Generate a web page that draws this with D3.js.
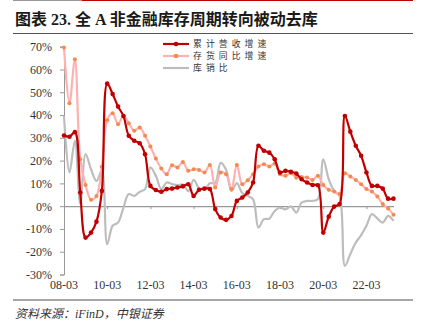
<!DOCTYPE html>
<html><head><meta charset="utf-8">
<script src="https://cdn.jsdelivr.net/npm/d3@7"></script>
<style>
html,body{margin:0;padding:0;background:#fff;}
svg{display:block;}
</style></head>
<body>
<script>
const quarters = ["2008-03","2008-06","2008-09","2008-12","2009-03","2009-06","2009-09","2009-12",
"2010-03","2010-06","2010-09","2010-12","2011-03","2011-06","2011-09","2011-12",
"2012-03","2012-06","2012-09","2012-12","2013-03","2013-06","2013-09","2013-12",
"2014-03","2014-06","2014-09","2014-12","2015-03","2015-06","2015-09","2015-12",
"2016-03","2016-06","2016-09","2016-12","2017-03","2017-06","2017-09","2017-12",
"2018-03","2018-06","2018-09","2018-12","2019-03","2019-06","2019-09","2019-12",
"2020-03","2020-06","2020-09","2020-12","2021-03","2021-06","2021-09","2021-12",
"2022-03","2022-06","2022-09","2022-12","2023-03","2023-06"];

const revenueGrowth = [31,30.5,32.5,6,-13.8,-11.6,-6.8,6.7,
53.8,49.2,43.7,39.6,30.9,28.7,27.6,22.8,
8.9,7.1,6.3,7.5,7.7,8.2,8.7,9.6,
4.5,7.2,7.7,7.5,-1.3,-5,-6,-4.3,
2.3,3.8,6,10.4,26.5,24.3,23.5,20.6,
14.8,15.5,15.1,14.3,11.8,10.4,9.3,9.2,
-11.6,-4.6,-0.2,0.9,39.6,32.7,26.5,22.1,
14.8,8.9,8.9,7.7,3.3,3.3];

const inventoryGrowth = [69.6,45.2,64.5,20.6,9.3,2.8,4.5,17.3,
37.7,40.8,36,39.6,36.4,33.1,34.5,30.9,
26.2,20.9,16.5,14,18,17,19.4,15.5,
16.2,15.9,14.8,18.1,8.2,14.8,14,7.5,
18.1,9.6,11.4,14,17.4,18.4,17.4,18.7,
14,13.3,14.5,12.5,12.8,12.6,11.5,13.3,
9.3,7.2,6.4,5.3,14.5,13,11.5,9.6,
7.5,6.4,4.2,0.9,-1,-3.8];

const stockSalesRatio = [39.6,14.8,28.7,0.9,22.8,16.2,11.1,15.5,
-16.7,-8.6,-7.2,-0.6,5.3,4.5,6.3,7.5,
17,13.3,7.5,10.4,9.7,9.2,9.5,6.6,
11.5,7.9,7.2,10.1,10.1,19,16,6.6,
10.1,5.8,4.5,3,-9.4,-5.7,-5.5,-2.1,
-0.6,-1.4,-0.1,-2.8,1.6,2.3,2.3,3.1,
20.6,11.9,6.7,4.5,-26.2,-21,-16,-12.7,
-8.6,-3.5,-5.4,-7.2,-4.3,-6.5];

const yTicks = [70,60,50,40,30,20,10,0,-10,-20,-30];
const xTickLabels = ["08-03","10-03","12-03","14-03","16-03","18-03","20-03","22-03"];
const seriesNames = ["累计营收增速","存货同比增速","库销比"];

const W = 427, H = 333;
const parse = d3.timeParse("%Y-%m");
const dates = quarters.map(parse);

const svg = d3.select("body").append("svg").attr("width", W).attr("height", H);

// header / footer decorations
svg.append("line").attr("x1",13).attr("x2",82).attr("y1",0.5).attr("y2",0.5).attr("stroke","#999").attr("stroke-width",1.2);
svg.append("line").attr("x1",82).attr("x2",413).attr("y1",0.5).attr("y2",0.5).attr("stroke","#C00000").attr("stroke-width",1.2);
svg.append("text").attr("x",15).attr("y",25)
  .attr("font-family","'Liberation Serif','Noto Sans CJK SC',serif")
  .attr("font-weight","bold").attr("font-size",16).attr("fill","#1a1a1a")
  .text("图表 23. 全 A 非金融库存周期转向被动去库");
svg.append("line").attr("x1",13).attr("x2",413).attr("y1",33.5).attr("y2",33.5).attr("stroke","#555").attr("stroke-width",1);
svg.append("line").attr("x1",13).attr("x2",413).attr("y1",300).attr("y2",300).attr("stroke","#888").attr("stroke-width",1.5);
svg.append("text").attr("x",15).attr("y",318)
  .attr("font-family","'Liberation Serif','Noto Sans CJK SC',serif")
  .attr("font-style","italic").attr("font-size",12).attr("fill","#333")
  .text("资料来源：iFinD，中银证券");

const x = d3.scaleTime().domain([dates[0], dates[dates.length-1]]).range([64, 393.5]);
const y = d3.scaleLinear().domain([-30, 70]).range([274.5, 46.7]);

// y axis
const yAxis = svg.append("g").attr("transform","translate(64,0)")
  .call(d3.axisLeft(y).tickValues(yTicks).tickSize(4).tickPadding(8).tickFormat(d => d + "%"));
yAxis.select(".domain").attr("stroke","#999");
yAxis.selectAll(".tick line").attr("stroke","#999");
yAxis.selectAll("text").attr("font-family","'Liberation Serif',serif").attr("font-size",12).attr("fill","#333");

// x axis at zero line
const tickDates = xTickLabels.map(s => d3.timeParse("%y-%m")(s));
const xAxis = svg.append("g").attr("transform",`translate(0,${y(0)})`)
  .call(d3.axisBottom(x).tickValues(tickDates).tickSize(3).tickSizeOuter(0).tickFormat(() => ""));
xAxis.select(".domain").attr("stroke","#999").attr("stroke-width",1.2);
xAxis.selectAll(".tick line").attr("stroke","#999");

// x labels at bottom
svg.append("g").selectAll("text").data(tickDates).join("text")
  .attr("x", d => x(d)).attr("y", 289).attr("text-anchor","middle")
  .attr("font-family","'Liberation Serif',serif").attr("font-size",12).attr("fill","#333")
  .text((d,i) => xTickLabels[i]);

const curve = d3.curveCatmullRom.alpha(0.5);
const line = vals => d3.line().x((d,i) => x(dates[i])).y(d => y(d)).curve(curve)(vals);

// gray
svg.append("path").attr("d", line(stockSalesRatio)).attr("fill","none").attr("stroke","#BDBDBD").attr("stroke-width",2.2);
// pink
svg.append("path").attr("d", line(inventoryGrowth)).attr("fill","none").attr("stroke","#FFB0B0").attr("stroke-width",2.2);
svg.append("g").selectAll("circle").data(inventoryGrowth).join("circle")
  .attr("cx",(d,i)=>x(dates[i])).attr("cy",d=>y(d)).attr("r",2).attr("fill","#F58A4E");
// red
svg.append("path").attr("d", line(revenueGrowth)).attr("fill","none").attr("stroke","#C00000").attr("stroke-width",2.2);
svg.append("g").selectAll("circle").data(revenueGrowth).join("circle")
  .attr("cx",(d,i)=>x(dates[i])).attr("cy",d=>y(d)).attr("r",2.3).attr("fill","#C00000");

// legend
const legColors = ["#C00000","#FFB0B0","#BDBDBD"];
const markColors = ["#C00000","#F58A4E",null];
const leg = svg.append("g");
seriesNames.forEach((name,i) => {
  const ly = 44 + i*12;
  leg.append("line").attr("x1",163).attr("x2",189).attr("y1",ly).attr("y2",ly).attr("stroke",legColors[i]).attr("stroke-width",2.2);
  if (markColors[i]) leg.append("circle").attr("cx",176).attr("cy",ly).attr("r",2.3).attr("fill",markColors[i]);
  leg.append("text").attr("x",193).attr("y",ly).attr("dy","0.36em")
    .attr("font-family","'Noto Sans CJK SC',sans-serif").attr("font-size",8.8).attr("letter-spacing",4.1)
    .attr("fill","#333").text(name);
});
</script>
</body></html>
